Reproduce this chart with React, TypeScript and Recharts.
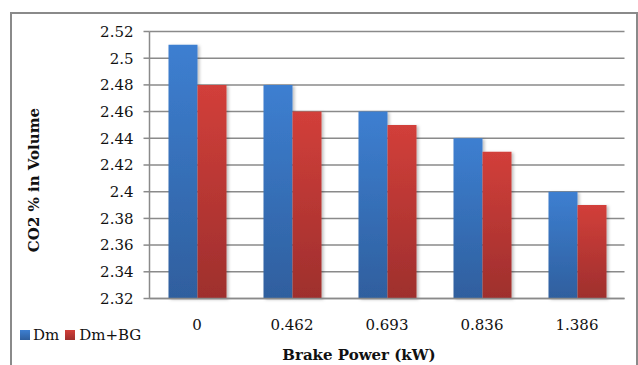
import React from "react";
import { BarChart, Bar, XAxis, YAxis, CartesianGrid } from "recharts";

const categories = ["0", "0.462", "0.693", "0.836", "1.386"];
const dmValues = [2.51, 2.48, 2.46, 2.44, 2.4];
const dmBgValues = [2.48, 2.46, 2.45, 2.43, 2.39];
const yTicks = [2.32, 2.34, 2.36, 2.38, 2.4, 2.42, 2.44, 2.46, 2.48, 2.5, 2.52];

const data = categories.map((power, i) => ({ power, dm: dmValues[i], dmBg: dmBgValues[i] }));

const FONT = "'DejaVu Serif', 'Liberation Serif', serif";
const GRID = "#8a8a8a";

const fmt = (v: number) => String(Number(v.toFixed(2)));

const YTitle = () => (
  <text
    x={34}
    y={180}
    transform="rotate(-90 34 180)"
    textAnchor="middle"
    dominantBaseline="central"
    fontFamily={FONT}
    fontWeight="bold"
    fontSize={15}
    fill="#111"
  >
    CO2 % in Volume
  </text>
);

const XTitle = () => (
  <text x={359} y={355} textAnchor="middle" dominantBaseline="central" fontFamily={FONT} fontWeight="bold" fontSize={15} fill="#111">
    Brake Power (kW)
  </text>
);

export default function App() {
  return (
    <div style={{ position: "absolute", left: 0, top: 0, width: 638, height: 365, overflow: "hidden", background: "#fff" }}>
      <div style={{ position: "absolute", left: 10, top: 12, width: 624, height: 400, border: `2px solid ${GRID}` }} />
      <div style={{ position: "absolute", left: 0, top: 0 }}>
        <BarChart
          width={638}
          height={365}
          data={data}
          margin={{ top: 31.5, right: 13.5, bottom: 36.5, left: 10 }}
          barGap={0}
          barCategoryGap="20%"
        >
          <defs>
            <linearGradient id="blueFill" x1="0" y1="0" x2="0" y2="1">
              <stop offset="0%" stopColor="#3d7fd1" />
              <stop offset="100%" stopColor="#2f5f9e" />
            </linearGradient>
            <linearGradient id="redFill" x1="0" y1="0" x2="0" y2="1">
              <stop offset="0%" stopColor="#d23f3a" />
              <stop offset="100%" stopColor="#9e2f2d" />
            </linearGradient>
            <filter id="barShadow" x="-20%" y="-5%" width="150%" height="110%">
              <feDropShadow dx="2" dy="1" stdDeviation="1.5" floodColor="#000" floodOpacity="0.25" />
            </filter>
          </defs>
          <CartesianGrid vertical={false} stroke={GRID} strokeWidth={1.5} />
          <XAxis
            dataKey="power"
            height={30}
            tickSize={0}
            tickMargin={21}
            axisLine={{ stroke: GRID, strokeWidth: 1.5 }}
            tickLine={false}
            tick={{ fontFamily: FONT, fontSize: 15, fill: "#111" }}
            label={<XTitle />}
          />
          <YAxis
            width={139.5}
            domain={[2.32, 2.52]}
            ticks={yTicks}
            tickFormatter={fmt}
            interval={0}
            tickSize={6}
            tickMargin={10}
            axisLine={{ stroke: GRID, strokeWidth: 1.5 }}
            tickLine={{ stroke: GRID, strokeWidth: 1.5 }}
            tick={{ fontFamily: FONT, fontSize: 15, fill: "#111" }}
            label={<YTitle />}
          />
          <Bar dataKey="dm" name="Dm" fill="url(#blueFill)" filter="url(#barShadow)" isAnimationActive={false} />
          <Bar dataKey="dmBg" name="Dm+BG" fill="url(#redFill)" filter="url(#barShadow)" isAnimationActive={false} />
        </BarChart>
      </div>
      <div
        style={{
          position: "absolute",
          left: 20,
          top: 326,
          display: "flex",
          alignItems: "center",
          fontFamily: FONT,
          fontSize: 15,
          color: "#111",
          lineHeight: "18px",
        }}
      >
        <span style={{ width: 10, height: 10, background: "linear-gradient(#3d7fd1, #2f5f9e)", marginRight: 3 }} />
        <span style={{ marginRight: 6 }}>Dm</span>
        <span style={{ width: 10, height: 10, background: "linear-gradient(#d23f3a, #9e2f2d)", marginRight: 4 }} />
        <span>Dm+BG</span>
      </div>
    </div>
  );
}
